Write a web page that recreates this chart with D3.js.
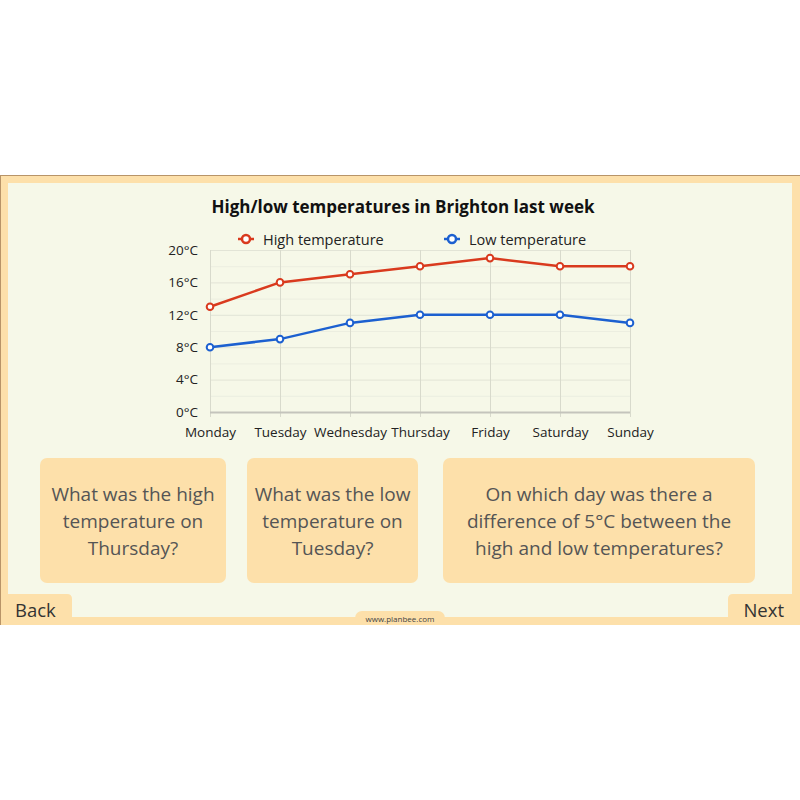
<!DOCTYPE html>
<html>
<head>
<meta charset="utf-8">
<script src="https://cdn.jsdelivr.net/npm/d3@7"></script>
<style>
  body { margin: 0; background: #fff; }
  svg { display: block; font-family: "Open Sans", "Noto Sans", sans-serif; }
</style>
</head>
<body>
<script>
// week of temperatures
var days = ["Monday", "Tuesday", "Wednesday", "Thursday", "Friday", "Saturday", "Sunday"];
var highTemps = [13, 16, 17, 18, 19, 18, 18];
var lowTemps = [8, 9, 11, 12, 12, 12, 11];
var yTicks = [0, 4, 8, 12, 16, 20];
var seriesNames = ["High temperature", "Low temperature"];
var questions = [
  ["What was the high", "temperature on", "Thursday?"],
  ["What was the low", "temperature on", "Tuesday?"],
  ["On which day was there a", "difference of 5°C between the", "high and low temperatures?"]
];

var orange = "#fde0aa", cream = "#f6f8e8";
var red = "#d93a1e", blue = "#1c60d0";

var svg = d3.select("body").append("svg").attr("width", 800).attr("height", 800);

// slide frame
svg.append("rect").attr("x", 0).attr("y", 175).attr("width", 800).attr("height", 450).attr("fill", orange);
svg.append("rect").attr("x", 8).attr("y", 183).attr("width", 784).attr("height", 434).attr("fill", cream);
svg.append("line").attr("x1", 0).attr("x2", 800).attr("y1", 175.5).attr("y2", 175.5).attr("stroke", "#b89468").attr("stroke-width", 1);

// title
svg.append("text")
  .attr("x", 403).attr("y", 213)
  .attr("text-anchor", "middle")
  .attr("font-size", 17).attr("font-weight", "bold").attr("fill", "#111")
  .text("High/low temperatures in Brighton last week");

var margin = {left: 210, top: 250},
    width = 420, height = 162;

var x = d3.scalePoint().domain(days).range([0, width]);
var y = d3.scaleLinear().domain([0, 20]).range([height, 0]);

var chartGroup = svg.append("g").attr("transform", "translate(" + margin.left + "," + margin.top + ")");

// minor + major horizontal grid
chartGroup.append("g").selectAll("line")
  .data(d3.range(2, 21, 2))
  .enter().append("line")
  .attr("x1", 0).attr("x2", width)
  .attr("y1", function(d) { return y(d) + 0.5; })
  .attr("y2", function(d) { return y(d) + 0.5; })
  .attr("stroke", function(d) { return d % 4 === 0 ? "#e2e4d6" : "#eceee0"; })
  .attr("stroke-width", 1);

// vertical grid
chartGroup.append("g").selectAll("line")
  .data(days)
  .enter().append("line")
  .attr("x1", function(d) { return x(d) + 0.5; })
  .attr("x2", function(d) { return x(d) + 0.5; })
  .attr("y1", 0).attr("y2", height + 5)
  .attr("stroke", "#d8dacc").attr("stroke-width", 1);

// baseline
chartGroup.append("line")
  .attr("x1", 0).attr("x2", width)
  .attr("y1", height + 0.5).attr("y2", height + 0.5)
  .attr("stroke", "#c4c4bc").attr("stroke-width", 2);

// y labels
var yAxis = d3.axisLeft(y).tickValues(yTicks).tickSize(0).tickPadding(12)
  .tickFormat(function(d) { return d + "°C"; });
chartGroup.append("g").attr("class", "axis y").call(yAxis)
  .call(function(g) { g.select(".domain").remove(); })
  .selectAll("text").attr("font-size", 13.5).attr("fill", "#222")
  .attr("font-family", "'Open Sans', sans-serif");

// x labels
var xAxis = d3.axisBottom(x).tickSize(0).tickPadding(15);
chartGroup.append("g").attr("class", "axis x")
  .attr("transform", "translate(0," + height + ")")
  .call(xAxis)
  .call(function(g) { g.select(".domain").remove(); })
  .selectAll("text").attr("font-size", 13.5).attr("fill", "#222")
  .attr("font-family", "'Open Sans', sans-serif");

var line = d3.line()
  .x(function(d, i) { return x(days[i]); })
  .y(function(d) { return y(d); });

[[highTemps, red], [lowTemps, blue]].forEach(function(s) {
  chartGroup.append("path").datum(s[0])
    .attr("d", line).attr("fill", "none")
    .attr("stroke", s[1]).attr("stroke-width", 2.5);
  chartGroup.append("g").selectAll("circle")
    .data(s[0]).enter().append("circle")
    .attr("cx", function(d, i) { return x(days[i]); })
    .attr("cy", function(d) { return y(d); })
    .attr("r", 3.3)
    .attr("fill", "#fff").attr("stroke", s[1]).attr("stroke-width", 2);
});

// legend
var legendX = [246, 452];
seriesNames.forEach(function(name, i) {
  var c = i === 0 ? red : blue;
  svg.append("line").attr("x1", legendX[i] - 8).attr("x2", legendX[i] + 8)
    .attr("y1", 239).attr("y2", 239).attr("stroke", c).attr("stroke-width", 2.5);
  svg.append("circle").attr("cx", legendX[i]).attr("cy", 239).attr("r", 4)
    .attr("fill", "#fff").attr("stroke", c).attr("stroke-width", 2.5);
  svg.append("text").attr("x", legendX[i] + 17).attr("y", 244.5)
    .attr("font-size", 14.5).attr("fill", "#222").text(name);
});

// question boxes
var boxes = [{x: 40, w: 186}, {x: 247, w: 171}, {x: 443, w: 312}];
boxes.forEach(function(b, i) {
  svg.append("rect").attr("x", b.x).attr("y", 458).attr("width", b.w).attr("height", 125)
    .attr("rx", 7).attr("fill", orange);
  var t = svg.append("text").attr("text-anchor", "middle")
    .attr("font-size", 19).attr("fill", "#555");
  questions[i].forEach(function(q, j) {
    t.append("tspan").attr("x", b.x + b.w / 2).attr("y", 501 + j * 27).text(q);
  });
});

// bottom band and buttons
svg.append("rect").attr("x", 0).attr("y", 617).attr("width", 800).attr("height", 8).attr("fill", orange);
svg.append("path").attr("d", "M0,625 V594 H67 Q72,594 72,599 V625 Z").attr("fill", orange);
svg.append("path").attr("d", "M800,625 V594 H733 Q728,594 728,599 V625 Z").attr("fill", orange);
svg.append("rect").attr("x", 355).attr("y", 611).attr("width", 90).attr("height", 20).attr("rx", 7).attr("fill", orange);
svg.append("rect").attr("x", 0).attr("y", 625).attr("width", 800).attr("height", 10).attr("fill", "#fff");
svg.append("line").attr("x1", 0.5).attr("x2", 0.5).attr("y1", 175).attr("y2", 625).attr("stroke", "#b89468").attr("stroke-width", 1);

svg.append("text").attr("x", 15).attr("y", 617).attr("font-size", 18.5).attr("fill", "#333").text("Back");
svg.append("text").attr("x", 784).attr("y", 617).attr("text-anchor", "end").attr("font-size", 18.5).attr("fill", "#333").text("Next");
svg.append("text").attr("x", 400).attr("y", 622).attr("text-anchor", "middle").attr("font-size", 8).attr("fill", "#444").text("www.planbee.com");
</script>
</body>
</html>
